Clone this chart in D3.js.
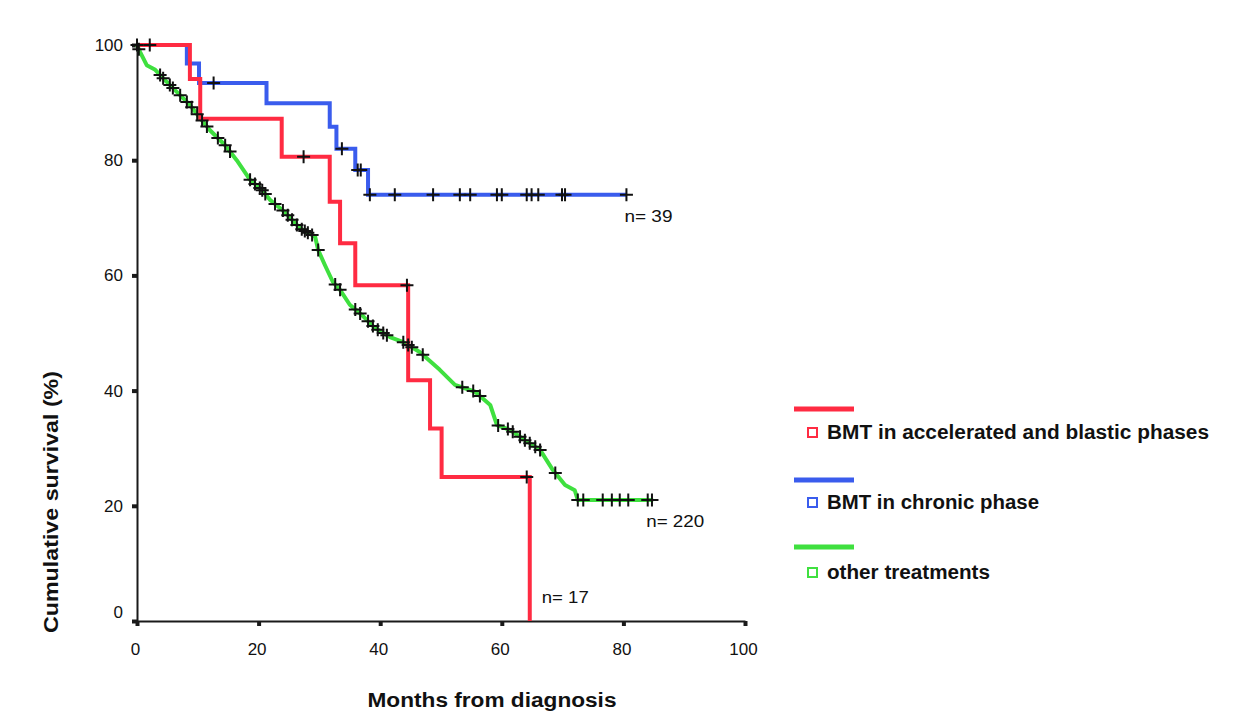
<!DOCTYPE html>
<html>
<head>
<meta charset="utf-8">
<script src="https://cdn.jsdelivr.net/npm/d3@7"></script>
<style>
  html, body { margin: 0; padding: 0; background: #ffffff; }
  svg { display: block; }
  text { font-family: "Liberation Sans", Arial, sans-serif; fill: #111; }
</style>
</head>
<body>
<svg id="chart" width="1250" height="724"></svg>
<script>
// Kaplan-Meier survival by treatment group (months from diagnosis, % surviving)
const xTicks = [0, 20, 40, 60, 80, 100];
const yTicks = [0, 20, 40, 60, 80, 100];

const seriesLabels = [
  "BMT in accelerated and blastic phases",
  "BMT in chronic phase",
  "other treatments"
];
const seriesColors = ["#ff2b42", "#3a5ced", "#3fe03f"];
const groupSizes = ["n= 17", "n= 39", "n= 220"];

// BMT in accelerated and blastic phases: step times and survival after each step
const accelTimes = [0, 8.7, 10.4, 23.8, 31.7, 33.4, 35.9, 44.6, 48.2, 50.1, 64.6];
const accelSurv  = [100, 94.1, 87.2, 80.6, 72.8, 65.6, 58.3, 41.8, 33.4, 25.0, 0];
const accelCensored = [27.4, 44.4, 64.1];

// BMT in chronic phase
const chronicTimes = [0, 8.2, 10.2, 21.3, 31.7, 32.8, 35.9, 38.0, 80.5];
const chronicSurv  = [100, 96.8, 93.4, 89.9, 85.8, 82.0, 78.3, 74.0, 74.0];
const chronicCensored = [2.1, 12.6, 33.7, 36.3, 36.8, 38.3, 42.4, 48.7, 53.1, 54.8,
  59.2, 60.0, 64.1, 64.9, 66.0, 69.9, 70.4, 80.5];

// Other treatments (large group: fine steps traced as a polyline)
const otherTimes = [0, 0.5, 1.6, 3.0, 4.6, 6.7, 8.7, 10.4, 12.0, 14.5, 16.4, 18.6, 20.6,
  21.9, 24.3, 26.8, 29.3, 29.8, 30.9, 32.2, 33.4, 35.0, 37.0, 39.1, 41.6, 43.8, 46.5,
  49.8, 52.3, 55.6, 58.1, 59.2, 61.3, 63.8, 66.3, 68.4, 70.4, 72.0, 72.5, 84.9];
const otherSurv = [100, 98.8, 96.5, 95.7, 93.9, 91.7, 89.6, 87.3, 85.2, 82.6, 80.0, 76.6, 74.8,
  73.1, 71.0, 68.2, 66.7, 64.4, 61.8, 58.9, 57.5, 54.9, 53.1, 50.9, 49.3, 48.4, 46.7,
  43.6, 41.0, 39.8, 37.5, 34.0, 33.2, 31.4, 29.7, 26.2, 23.6, 22.7, 21.0, 21.0];
const otherCensored = [0, 0.3, 3.8, 4.3, 5.4, 5.9, 7.1, 8.2, 9.0, 9.9, 10.7, 11.5, 13.3, 14.5,
  15.3, 18.6, 19.4, 20.2, 20.6, 21.1, 22.7, 24.0, 24.8, 25.5, 26.3, 27.1, 27.6, 28.1,
  28.8, 29.8, 32.6, 33.4, 35.9, 36.7, 38.0, 38.8, 39.6, 40.5, 41.1, 43.8, 44.6, 45.2,
  47.0, 53.5, 55.3, 56.4, 59.4, 61.0, 61.8, 63.0, 63.8, 64.6, 65.5, 66.3, 68.8, 72.5,
  73.4, 76.6, 78.1, 79.4, 80.8, 84.0, 84.7];

const svg = d3.select("#chart");

const x = d3.scaleLinear().domain([0, 100]).range([137, 745]);
const y = d3.scaleLinear().domain([0, 100]).range([621, 45]);

// Axes
const axisColor = "#1a1a1a";
const yAxis = svg.append("g")
  .attr("transform", `translate(${x(0)},0)`)
  .call(d3.axisLeft(y).tickValues(yTicks).tickSize(5).tickSizeOuter(0).tickPadding(9)
    .tickFormat(d3.format("d")));
const xAxis = svg.append("g")
  .attr("transform", `translate(0,${y(0)})`)
  .call(d3.axisBottom(x).tickValues(xTicks).tickSize(5).tickSizeOuter(0).tickPadding(17)
    .tickFormat(d3.format("d")));

[yAxis, xAxis].forEach(g => {
  g.select(".domain").attr("stroke", axisColor).attr("stroke-width", 2);
  g.selectAll(".tick line").attr("stroke", axisColor).attr("stroke-width", 4);
  g.selectAll(".tick text").style("font-size", "17px").attr("fill", "#1a1a1a");
});
// the zero label on the survival axis sits above its tick
yAxis.selectAll(".tick").filter(d => d === 0).select("text").attr("dy", "-0.2em");
xAxis.selectAll(".tick text").attr("dx", "-2");

// Axis titles
svg.append("text")
  .attr("x", 492).attr("y", 707)
  .attr("text-anchor", "middle")
  .attr("textLength", 249).attr("lengthAdjust", "spacingAndGlyphs")
  .style("font-size", "19.5px").style("font-weight", "bold")
  .text("Months from diagnosis");

svg.append("text")
  .attr("transform", "translate(58,502) rotate(-90)")
  .attr("text-anchor", "middle")
  .attr("textLength", 262).attr("lengthAdjust", "spacingAndGlyphs")
  .style("font-size", "19.5px").style("font-weight", "bold")
  .text("Cumulative survival (%)");

// Survival curves
const stepLine = d3.line().x(d => x(d[0])).y(d => y(d[1])).curve(d3.curveStepAfter);
const polyLine = d3.line().x(d => x(d[0])).y(d => y(d[1]));

const accelPts = d3.zip(accelTimes, accelSurv);
const chronicPts = d3.zip(chronicTimes, chronicSurv);
const otherPts = d3.zip(otherTimes, otherSurv);

const curves = svg.append("g").attr("fill", "none").attr("stroke-width", 4);
curves.append("path").attr("d", polyLine(otherPts)).attr("stroke", seriesColors[2])
  .attr("stroke-linejoin", "round");
curves.append("path").attr("d", stepLine(chronicPts)).attr("stroke", seriesColors[1]);
curves.append("path").attr("d", stepLine(accelPts)).attr("stroke", seriesColors[0]);

// Survival at time t for a step curve
function stepAt(times, surv) {
  return t => surv[Math.max(0, d3.bisectRight(times, t) - 1)];
}
const otherAt = d3.scaleLinear().domain(otherTimes).range(otherSurv).clamp(true);

const censorGroups = [
  { times: otherCensored, at: otherAt },
  { times: chronicCensored, at: stepAt(chronicTimes, chronicSurv) },
  { times: accelCensored, at: stepAt(accelTimes, accelSurv) }
];

const plus = "M-6.5,0H6.5M0,-6.5V6.5";
const marks = svg.append("g").attr("stroke", "#111").attr("stroke-width", 2).attr("fill", "none");
censorGroups.forEach(g => {
  marks.selectAll(null).data(g.times).join("path")
    .attr("transform", t => `translate(${x(t)},${y(g.at(t))})`)
    .attr("d", plus);
});

// Group size labels at curve ends
const nLabels = [
  { text: groupSizes[1], t: 80.5, v: 74.0, dx: -2, dy: 27, w: 48 },
  { text: groupSizes[2], t: 84.9, v: 21.0, dx: -7, dy: 27, w: 58 },
  { text: groupSizes[0], t: 64.6, v: 0, dx: 12, dy: -18, w: 47 }
];
svg.append("g").selectAll("text").data(nLabels).join("text")
  .attr("x", d => x(d.t) + d.dx)
  .attr("y", d => y(d.v) + d.dy)
  .attr("textLength", d => d.w).attr("lengthAdjust", "spacingAndGlyphs")
  .style("font-size", "17px")
  .text(d => d.text);

// Legend
const legendRows = [
  { lineY: 409, textY: 439, w: 382 },
  { lineY: 480, textY: 509, w: 212 },
  { lineY: 547, textY: 579, w: 163 }
];
const legend = svg.append("g");
legendRows.forEach((r, i) => {
  legend.append("line")
    .attr("x1", 794).attr("x2", 854).attr("y1", r.lineY).attr("y2", r.lineY)
    .attr("stroke", seriesColors[i]).attr("stroke-width", 5);
  legend.append("rect")
    .attr("x", 808).attr("y", r.textY - 11).attr("width", 9).attr("height", 9)
    .attr("fill", "#fff").attr("stroke", seriesColors[i]).attr("stroke-width", 2);
  legend.append("text")
    .attr("x", 827).attr("y", r.textY)
    .attr("textLength", r.w).attr("lengthAdjust", "spacingAndGlyphs")
    .style("font-size", "19.5px").style("font-weight", "bold")
    .text(seriesLabels[i]);
});
</script>
</body>
</html>
